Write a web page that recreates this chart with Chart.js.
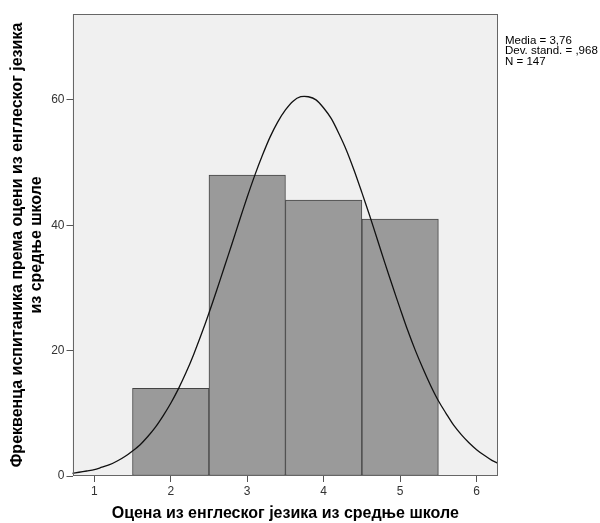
<!DOCTYPE html>
<html>
<head>
<meta charset="utf-8">
<script src="https://cdn.jsdelivr.net/npm/chart.js@4.4.1/dist/chart.umd.min.js"></script>
<style>
  body { margin: 0; background: #fff; }
  canvas { display: block; }
</style>
</head>
<body>
<canvas id="histChart" width="600" height="523"></canvas>
<script>
// grades and how many students got each
const grades = [2, 3, 4, 5];
const counts = [14, 48, 44, 41];

// normal curve
const curveX = [0.7, 0.8, 0.9, 1.0, 1.1, 1.2, 1.3, 1.4, 1.5, 1.6, 1.7, 1.8, 1.9, 2.0,
    2.1, 2.2, 2.3, 2.4, 2.5, 2.6, 2.7, 2.8, 2.9, 3.0, 3.1, 3.2, 3.3, 3.4, 3.5, 3.6,
    3.7, 3.8, 3.9, 4.0, 4.1, 4.2, 4.3, 4.4, 4.5, 4.6, 4.7, 4.8, 4.9, 5.0, 5.1, 5.2,
    5.3, 5.4, 5.5, 5.6, 5.7, 5.8, 5.9, 6.0, 6.1, 6.2, 6.3];
const curveY = [0.4, 0.6, 0.8, 1.0, 1.4, 1.8, 2.4, 3.1, 4.0, 5.0, 6.3, 7.8, 9.6, 11.6,
    13.9, 16.5, 19.4, 22.6, 26.0, 29.6, 33.3, 37.0, 40.8, 44.5, 48.0, 51.2, 54.1, 56.5, 58.4, 59.8,
    60.5, 60.5, 60.0, 58.7, 57.0, 54.6, 51.9, 48.7, 45.2, 41.6, 37.8, 34.0, 30.3, 26.7, 23.2, 20.0,
    17.1, 14.4, 12.0, 10.0, 8.1, 6.6, 5.3, 4.2, 3.3, 2.5, 1.9];

const xTicks = [1, 2, 3, 4, 5, 6];
const yTicks = [0, 20, 40, 60];
const statsLines = ['Media = 3,76', 'Dev. stand. = ,968', 'N = 147'];

const FONT = "'Liberation Sans', Arial, sans-serif";

// grey plot box plus the stats text on the right
const plotFrame = {
    id: 'plotFrame',
    beforeDraw(chart) {
        const { ctx, chartArea: a } = chart;
        ctx.save();
        ctx.fillStyle = '#f0f0f0';
        ctx.fillRect(a.left, a.top, a.right - a.left, a.bottom - a.top);
        ctx.restore();
    },
    afterDraw(chart) {
        const { ctx, chartArea: a } = chart;
        ctx.save();
        ctx.strokeStyle = '#666';
        ctx.lineWidth = 1;
        const l = Math.round(a.left) + 0.5, t = Math.round(a.top) + 0.5;
        const r = Math.round(a.right) - 0.5, b = Math.round(a.bottom) - 0.5;
        ctx.strokeRect(l, t, r - l, b - t);

        ctx.fillStyle = '#000';
        ctx.font = '11.5px ' + FONT;
        ctx.textBaseline = 'alphabetic';
        statsLines.forEach((txt, i) => {
            ctx.fillText(txt, a.right + 7, 43.5 + i * 10.5);
        });
        ctx.restore();
    }
};

const ctx = document.getElementById('histChart').getContext('2d');
const histChart = new Chart(ctx, {
    data: {
        datasets: [{
            type: 'bar',
            data: grades.map((g, i) => ({ x: g, y: counts[i] })),
            backgroundColor: '#9a9a9a',
            borderColor: '#444',
            borderWidth: 1,
            borderSkipped: false,
            barPercentage: 1,
            categoryPercentage: 1,
            order: 2
        }, {
            type: 'line',
            data: curveX.map((x, i) => ({ x: x, y: curveY[i] })),
            borderColor: '#111',
            borderWidth: 1.3,
            pointRadius: 0,
            tension: 0.3,
            fill: false,
            order: 1
        }]
    },
    options: {
        responsive: false,
        animation: false,
        layout: {
            padding: { top: 14, right: 102, left: 0, bottom: 0 }
        },
        scales: {
            x: {
                type: 'linear',
                min: 0.715,
                max: 6.28,
                offset: false,
                afterBuildTicks: (scale) => { scale.ticks = xTicks.map(v => ({ value: v })); },
                afterFit: (scale) => { scale.height = 47; },
                ticks: {
                    color: '#333',
                    font: { family: FONT, size: 12 },
                    padding: 2,
                    maxRotation: 0
                },
                grid: { offset: false, drawOnChartArea: false, drawTicks: true, tickLength: 6, color: '#555' },
                border: { display: false },
                title: {
                    display: true,
                    text: 'Оцена из енглеског језика из средње школе',
                    color: '#000',
                    font: { family: FONT, size: 16, weight: 'bold' },
                    padding: { top: 0, bottom: 0 }
                }
            },
            y: {
                min: 0,
                max: 73.7,
                afterBuildTicks: (scale) => { scale.ticks = yTicks.map(v => ({ value: v })); },
                afterFit: (scale) => { scale.width = 72.5; },
                ticks: {
                    color: '#333',
                    font: { family: FONT, size: 12 },
                    padding: 2
                },
                grid: { drawOnChartArea: false, drawTicks: true, tickLength: 6, color: '#555' },
                border: { display: false },
                title: {
                    display: true,
                    text: ['Фреквенца испитаника према оцени из енглеског језика', 'из средње школе'],
                    color: '#000',
                    font: { family: FONT, size: 16, weight: 'bold', lineHeight: 1.2 },
                    padding: { top: 8, bottom: 0 }
                }
            }
        },
        plugins: {
            legend: { display: false },
            tooltip: { enabled: false }
        }
    },
    plugins: [plotFrame]
});
</script>
</body>
</html>
